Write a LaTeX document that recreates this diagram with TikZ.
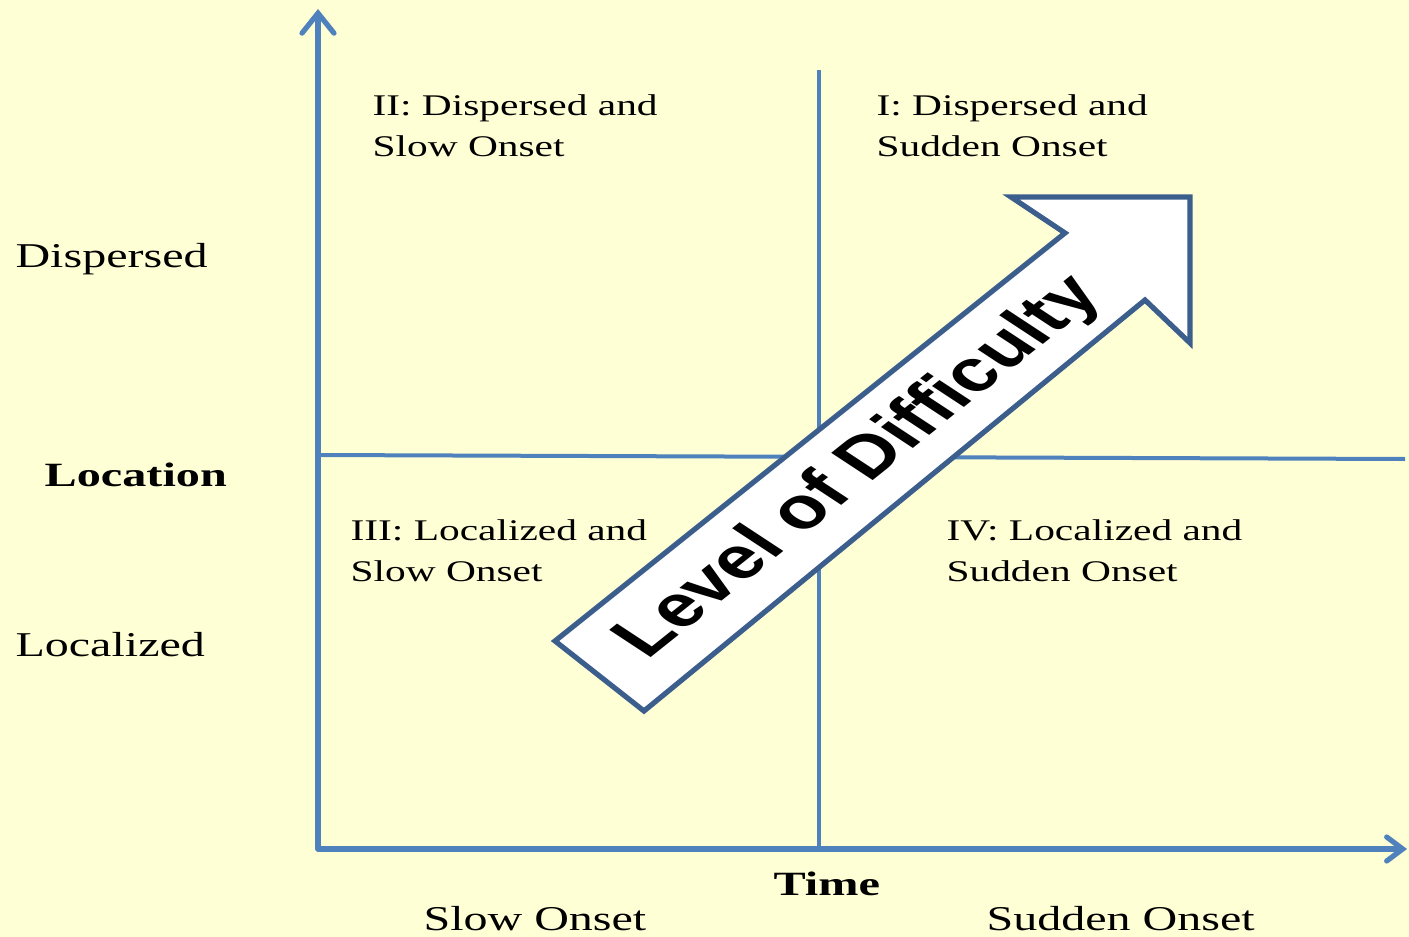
\documentclass[tikz,border=0pt]{standalone}
\usepackage{fontspec}
\setmainfont{Liberation Serif}
\newfontfamily\levelfont{Liberation Sans}
\usetikzlibrary{arrows.meta}
\definecolor{fond}{RGB}{255,255,214}
\definecolor{axe}{RGB}{79,129,189}
\definecolor{fleche}{RGB}{59,94,140}
\tikzset{
    axis/.style={line width=2.6pt,color=axe,line cap=round},
    quadline/.style={line width=2pt,color=axe},
    lbl/.style={inner sep=0pt,anchor=base west,xscale=1.38,transform shape,font=\fontsize{17.4}{20}\selectfont},
    boldlbl/.style={inner sep=0pt,anchor=base west,xscale=1.42,transform shape,font=\fontsize{17}{20}\selectfont\bfseries},
    quad/.style={inner sep=0pt,anchor=north west,align=left,xscale=1.38,transform shape,font=\fontsize{15}{20.6}\selectfont},
  }
\begin{document}
\begin{tikzpicture}[x=0.5pt,y=-0.5pt]
				  %fond
				  \fill[fond] (0,0) rectangle (1409,937);
				  \useasboundingbox (0,0) rectangle (1409,937);

				  %AXES
				  \coordinate (O) at (318,849);
				  \coordinate (Ytop) at (318,9);
				  \coordinate (Xend) at (1407,849);
				  \draw[axis,-{Straight Barb[length=10pt,width=16pt,line cap=round]}] (O) -- (Ytop);
				  \draw[axis,-{Straight Barb[length=8pt,width=12pt,line cap=round]}] (O) -- (Xend);

				  %quadrants
				  \coordinate (Vtop) at (819,70);
				  \coordinate (Vbot) at (819,849);
				  \coordinate (Hleft) at (318,455);
				  \coordinate (Hright) at (1405,459);
				  \draw[quadline] (Vtop) -- (Vbot);
				  \draw[quadline] (Hleft) -- (Hright);

				  %textes des quadrants
				  \node[quad] (QII) at (372,94) {II: Dispersed and\\Slow Onset};
				  \node[quad] (QI) at (876,94) {I: Dispersed and\\Sudden Onset};
				  \node[quad] (QIII) at (350,519) {III: Localized and\\Slow Onset};
				  \node[quad] (QIV) at (946,519) {IV: Localized and\\Sudden Onset};

				  %LOCATION
				  \node[lbl] (disp) at (15,267) {Dispersed};
				  \node[boldlbl] (loc) at (44,486) {Location};
				  \node[lbl] (local) at (15,656) {Localized};

				  %TIME
				  \node[boldlbl] (time) at (773,895) {Time};
				  \node[lbl] (slow) at (423,930) {Slow Onset};
				  \node[lbl] (sudden) at (986,930) {Sudden Onset};

				  %fleche LEVEL OF DIFFICULTY
				  \draw[line width=2.6pt,draw=fleche,fill=white,line join=miter]
				        (555,641) -- (644,711) -- (1145,300) -- (1190,343) -- (1190,197) -- (1011,197) -- (1065,233) -- cycle;
				  \node[inner sep=0pt,xscale=1.38,rotate=47.8,transform shape,font=\levelfont\bfseries\fontsize{29.5}{30}\selectfont] (level) at (860,468) {Level of Difficulty};
\end{tikzpicture}
\end{document}
